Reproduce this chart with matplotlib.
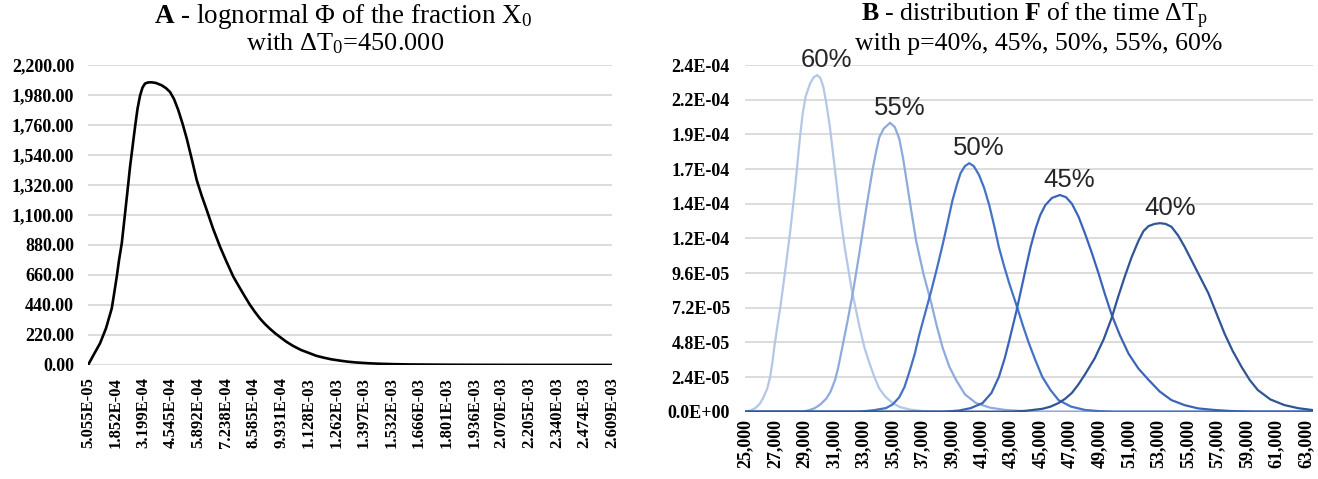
import matplotlib
matplotlib.use("Agg")
import matplotlib.pyplot as plt

plt.rcParams['font.family'] = ['Liberation Serif', 'DejaVu Serif']
plt.rcParams['mathtext.fontset'] = 'custom'
plt.rcParams['mathtext.rm'] = 'Liberation Serif'
plt.rcParams['mathtext.bf'] = 'Liberation Serif:bold'
plt.rcParams['mathtext.it'] = 'Liberation Serif:italic'

# ---- panel A : lognormal density of X0 ----
a_x = [5.06e-5, 7.98e-5, 1.091e-4, 1.384e-4, 1.663e-4, 1.775e-4, 1.907e-4, 2.019e-4,
       2.151e-4, 2.312e-4, 2.434e-4, 2.556e-4, 2.678e-4, 2.800e-4, 2.922e-4, 3.044e-4,
       3.166e-4, 3.288e-4, 3.435e-4, 3.616e-4, 3.826e-4, 4.104e-4, 4.314e-4, 4.509e-4,
       4.704e-4, 4.914e-4, 5.119e-4, 5.324e-4, 5.569e-4, 5.813e-4, 6.057e-4, 6.301e-4,
       6.609e-4, 6.950e-4, 7.273e-4, 7.600e-4, 7.927e-4, 8.171e-4, 8.415e-4, 8.659e-4,
       8.903e-4, 9.147e-4, 9.392e-4, 9.636e-4, 9.880e-4, 1.0173e-3, 1.0515e-3, 1.0905e-3,
       1.1345e-3, 1.1638e-3, 1.1979e-3, 1.2370e-3, 1.2809e-3, 1.3200e-3, 1.3639e-3,
       1.4176e-3, 1.4762e-3, 1.5495e-3, 1.6227e-3, 1.7204e-3, 1.8180e-3, 1.9400e-3,
       2.0621e-3, 2.2086e-3, 2.3550e-3, 2.5016e-3, 2.609e-3]
a_y = [0, 80, 159, 270, 415, 520, 647, 770,
       891, 1111, 1280, 1453, 1600, 1746, 1880, 1975,
       2035, 2064, 2072, 2073, 2068, 2051, 2030, 2002,
       1950, 1868, 1770, 1661, 1510, 1355, 1240, 1136,
       1000, 867, 755, 647, 562, 500, 440, 388,
       340, 300, 265, 233, 205, 172, 140, 110,
       85, 68, 55, 42, 32, 24, 18,
       13, 9, 6, 4, 3, 2, 1.4,
       1, 0.7, 0.5, 0.4, 0.3]
a_ticklabels = ["5.055E-05", "1.852E-04", "3.199E-04", "4.545E-04", "5.892E-04",
                "7.238E-04", "8.585E-04", "9.931E-04", "1.128E-03", "1.262E-03",
                "1.397E-03", "1.532E-03", "1.666E-03", "1.801E-03", "1.936E-03",
                "2.070E-03", "2.205E-03", "2.340E-03", "2.474E-03", "2.609E-03"]

# ---- panel B : distributions of the time dT_p ----
p_labels = ["60%", "55%", "50%", "45%", "40%"]
p_colors = ["#b4c7e7", "#8faadc", "#4472c4", "#3a64b8", "#2f5597"]

x60 = [25000, 25400, 25700, 26000, 26250, 26500, 26700, 26850, 27000, 27200, 27400, 27700,
       28050, 28400, 28700, 28900, 29100, 29400, 29650, 29880, 30100, 30300, 30500, 30750,
       31100, 31400, 31750, 32200, 32750, 33100, 33450, 33800, 34100, 34500, 35000, 35500,
       36150, 37000, 38000, 40000, 63500]
y60 = [0, 1.0e-6, 2.5e-6, 5.5e-6, 1.0e-5, 1.6e-5, 2.4e-5, 3.4e-5, 4.6e-5, 6.0e-5, 7.3e-5, 9.6e-5,
       1.24e-4, 1.56e-4, 1.88e-4, 2.06e-4, 2.18e-4, 2.27e-4, 2.315e-4, 2.33e-4, 2.31e-4, 2.25e-4,
       2.14e-4, 1.97e-4, 1.67e-4, 1.40e-4, 1.14e-4, 8.6e-5, 5.9e-5, 4.4e-5, 3.3e-5, 2.3e-5,
       1.6e-5, 1.05e-5, 6e-6, 3.2e-6, 1.5e-6, 5e-7, 1e-7, 0, 0]

x55 = [25000, 28900, 29300, 29700, 30100, 30500, 30800, 31100, 31300, 31500, 31950, 32300,
       32750, 33200, 33650, 33900, 34100, 34400, 34830, 35150, 35450, 35700, 35900, 36250,
       36600, 37100, 37600, 38000, 38400, 38850, 39300, 39900, 40650, 41600, 42650, 44000,
       45000, 63500]
y55 = [0, 0, 1e-6, 2.3e-6, 5e-6, 9e-6, 1.4e-5, 2.2e-5, 3.0e-5, 4.0e-5, 6.3e-5, 8.2e-5,
       1.10e-4, 1.40e-4, 1.68e-4, 1.81e-4, 1.90e-4, 1.96e-4, 2.00e-4, 1.97e-4, 1.89e-4, 1.76e-4,
       1.63e-4, 1.40e-4, 1.18e-4, 9.5e-5, 7.6e-5, 5.9e-5, 4.4e-5, 3.1e-5, 2.2e-5, 1.2e-5,
       6e-6, 2.8e-6, 1.2e-6, 3e-7, 0, 0]

x50 = [25000, 32750, 33700, 34550, 35000, 35450, 35800, 36150, 36500, 36800, 37200, 37600,
       38000, 38400, 38750, 39050, 39350, 39600, 39900, 40190, 40500, 40850, 41200, 41550,
       41900, 42200, 42550, 42900, 43450, 43850, 44250, 44700, 45150, 45700, 46250, 47100,
       48050, 49000, 50000, 63500]
y50 = [0, 0, 1e-6, 2.5e-6, 5e-6, 1.0e-5, 1.7e-5, 2.8e-5, 4.0e-5, 5.3e-5, 6.8e-5, 8.3e-5,
       9.9e-5, 1.16e-4, 1.32e-4, 1.46e-4, 1.57e-4, 1.65e-4, 1.70e-4, 1.72e-4, 1.70e-4, 1.64e-4,
       1.55e-4, 1.43e-4, 1.28e-4, 1.14e-4, 1.01e-4, 8.9e-5, 7.2e-5, 5.9e-5, 4.7e-5, 3.5e-5,
       2.4e-5, 1.5e-5, 8e-6, 3.5e-6, 1.2e-6, 4e-7, 0, 0]

x45 = [25000, 38500, 39500, 40300, 41100, 41700, 42200, 42600, 42900, 43400, 43700, 44000,
       44350, 44700, 45000, 45350, 45800, 46330, 46750, 47150, 47600, 48050, 48500, 48950,
       49400, 49850, 50400, 51000, 51650, 52350, 53100, 53900, 54800, 55700, 56800, 57900,
       59500, 63500]
y45 = [0, 0, 8e-7, 2.5e-6, 6e-6, 1.3e-5, 2.4e-5, 3.7e-5, 4.9e-5, 7.0e-5, 8.4e-5, 9.8e-5,
       1.14e-4, 1.27e-4, 1.36e-4, 1.43e-4, 1.48e-4, 1.50e-4, 1.485e-4, 1.44e-4, 1.35e-4, 1.23e-4,
       1.10e-4, 9.6e-5, 8.1e-5, 6.7e-5, 5.3e-5, 4.0e-5, 3.0e-5, 2.2e-5, 1.4e-5, 8e-6,
       4.5e-6, 2.3e-6, 1.2e-6, 5e-7, 0, 0]

x40 = [25000, 43000, 44000, 45150, 45700, 46250, 46700, 47150, 47600, 48050, 48700, 49300,
       49850, 50300, 50750, 51200, 51650, 52000, 52350, 52750, 53125, 53500, 53900, 54350,
       54800, 55300, 55850, 56400, 56950, 57500, 58050, 58650, 59200, 59750, 60600, 61550,
       62500, 63500]
y40 = [0, 0, 6e-7, 2e-6, 3.5e-6, 6e-6, 9e-6, 1.3e-5, 1.9e-5, 2.6e-5, 3.7e-5, 5.0e-5,
       6.5e-5, 8.0e-5, 9.4e-5, 1.07e-4, 1.18e-4, 1.25e-4, 1.285e-4, 1.30e-4, 1.305e-4, 1.30e-4,
       1.28e-4, 1.22e-4, 1.14e-4, 1.04e-4, 9.3e-5, 8.2e-5, 6.8e-5, 5.4e-5, 4.2e-5, 3.1e-5,
       2.2e-5, 1.5e-5, 8.5e-6, 4.6e-6, 2.4e-6, 1.1e-6]

b_x = [x60, x55, x50, x45, x40]
b_y = [y60, y55, y50, y45, y40]
b_xticks = list(range(25000, 63001, 2000))

fig = plt.figure(figsize=(13.18, 4.79), dpi=100)
grid_c = "#d9d9d9"
tick_font = dict(fontsize=13, fontweight='bold')

# panel A
ax1 = fig.add_axes([0.0668, 0.2380, 0.3976, 0.6263])
ax1.plot(a_x, a_y, color='black', lw=1.9, solid_joinstyle='round', solid_capstyle='round')
ax1.set_xlim(float(a_ticklabels[0]), float(a_ticklabels[-1]))
ax1.set_ylim(0, 2200)
ax1.set_yticks([220 * i for i in range(11)])
ax1.set_yticklabels(["{:,.2f}".format(220 * i) for i in range(11)], **tick_font)
ax1.set_xticks([float(s) for s in a_ticklabels])
ax1.set_xticklabels(a_ticklabels, rotation=90, fontsize=12, fontweight='bold')
ax1.tick_params(axis='both', length=0)
ax1.tick_params(axis='y', pad=10)
ax1.tick_params(axis='x', pad=9)
ax1.yaxis.grid(True, color=grid_c, lw=1.3)
ax1.set_axisbelow(True)
for s in ax1.spines.values():
    s.set_visible(False)

# panel B
ax2 = fig.add_axes([0.5653, 0.1405, 0.4310, 0.7238])
for xs, ys, c, lab in zip(b_x, b_y, p_colors, p_labels):
    ax2.plot(xs, ys, color=c, lw=1.6, solid_joinstyle='round')
    k = ys.index(max(ys))
    ax2.annotate(lab, (xs[k], ys[k]), xytext=(7, 11), textcoords='offset points',
                 ha='center', va='center', fontsize=18.5, family='Liberation Sans',
                 color='#262626')
ax2.set_xlim(25000, 63500)
ax2.set_ylim(0, 2.4e-4)
yt = [2.4e-5 * i for i in range(11)]
ax2.set_yticks(yt)
ax2.set_yticklabels(["{:.1E}".format(v) for v in yt], **tick_font)
ax2.set_xticks(b_xticks)
ax2.set_xticklabels(["{:,}".format(v) for v in b_xticks], rotation=90, **tick_font)
ax2.tick_params(axis='both', length=0)
ax2.tick_params(axis='y', pad=11)
ax2.tick_params(axis='x', pad=5)
ax2.yaxis.grid(True, color=grid_c, lw=1.3)
ax2.set_axisbelow(True)
for s in ax2.spines.values():
    s.set_visible(False)

# titles
fig.text(0.260, 0.966, r"$\mathbf{A}$ - lognormal Φ of the fraction X$_0$",
         ha='center', va='center', fontsize=19.5)
fig.text(0.262, 0.908, r"with ΔT$_0$=450.000", ha='center', va='center', fontsize=19)
fig.text(0.785, 0.966, r"$\mathbf{B}$ - distribution $\mathbf{F}$ of the time ΔT$_\mathrm{p}$",
         ha='center', va='center', fontsize=18.5)
fig.text(0.788, 0.908, "with p=40%, 45%, 50%, 55%, 60%", ha='center', va='center', fontsize=18.5)

fig.savefig("out.png", dpi=100)
